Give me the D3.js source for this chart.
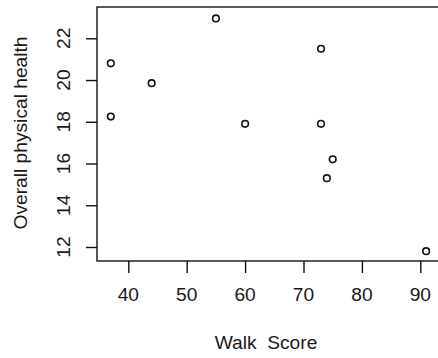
<!DOCTYPE html>
<html>
<head>
<meta charset="utf-8">
<script src="https://cdn.jsdelivr.net/npm/d3@7"></script>
<style>
  html, body { margin: 0; padding: 0; background: #fff; }
  svg { display: block; }
  text { font-family: "Liberation Sans", Arial, sans-serif; fill: #1a1a1a; }
</style>
</head>
<body>
<svg id="chart" width="438" height="358"></svg>
<script>
// Data
const walkScore = [37, 37, 44, 55, 60, 73, 73, 74, 75, 91];
const physicalHealth = [20.8, 18.25, 19.85, 22.95, 17.9, 21.5, 17.9, 15.3, 16.2, 11.8];
const xTicks = [40, 50, 60, 70, 80, 90];
const yTicks = [12, 14, 16, 18, 20, 22];
const xTitle = "Walk  Score";
const yTitle = "Overall physical health";

const svg = d3.select("#chart");
const box = { left: 97, top: 7, right: 446, bottom: 261 };

const x = d3.scaleLinear().domain([40, 90]).range([128.3, 420.3]);
const y = d3.scaleLinear().domain([12, 22]).range([247, 38.3]);

const fs = 19.2;

// Box
svg.append("rect")
  .attr("x", box.left).attr("y", box.top)
  .attr("width", box.right - box.left).attr("height", box.bottom - box.top)
  .attr("fill", "none").attr("stroke", "#111").attr("stroke-width", 1.4);

// X axis
const xAxis = svg.append("g")
  .attr("transform", `translate(0,${box.bottom})`)
  .call(d3.axisBottom(x).tickValues(xTicks).tickSize(12).tickFormat(""));
xAxis.select(".domain").remove();
xAxis.selectAll(".tick line").attr("stroke", "#111").attr("stroke-width", 1.4);

svg.append("g").selectAll("text")
  .data(xTicks)
  .join("text")
  .attr("x", d => x(d))
  .attr("y", 301)
  .attr("text-anchor", "middle")
  .attr("font-size", fs)
  .text(d => d3.format("d")(d));

// Y axis
const yAxis = svg.append("g")
  .attr("transform", `translate(${box.left},0)`)
  .call(d3.axisLeft(y).tickValues(yTicks).tickSize(11).tickFormat(""));
yAxis.select(".domain").remove();
yAxis.selectAll(".tick line").attr("stroke", "#111").attr("stroke-width", 1.4);

svg.append("g").selectAll("text")
  .data(yTicks)
  .join("text")
  .attr("transform", d => `translate(70,${y(d)}) rotate(-90)`)
  .attr("text-anchor", "middle")
  .attr("font-size", fs)
  .text(d => d3.format("d")(d));

// Titles
svg.append("text")
  .attr("x", 266).attr("y", 349)
  .attr("text-anchor", "middle")
  .attr("font-size", fs)
  .attr("xml:space", "preserve")
  .style("white-space", "pre")
  .text(xTitle);

svg.append("text")
  .attr("transform", `translate(27,133) rotate(-90)`)
  .attr("text-anchor", "middle")
  .attr("font-size", fs)
  .text(yTitle);

// Points
svg.append("g").selectAll("circle")
  .data(walkScore.map((d, i) => [d, physicalHealth[i]]))
  .join("circle")
  .attr("cx", d => x(d[0]))
  .attr("cy", d => y(d[1]))
  .attr("r", 3.3)
  .attr("fill", "none")
  .attr("stroke", "#111")
  .attr("stroke-width", 1.6);
</script>
</body>
</html>
